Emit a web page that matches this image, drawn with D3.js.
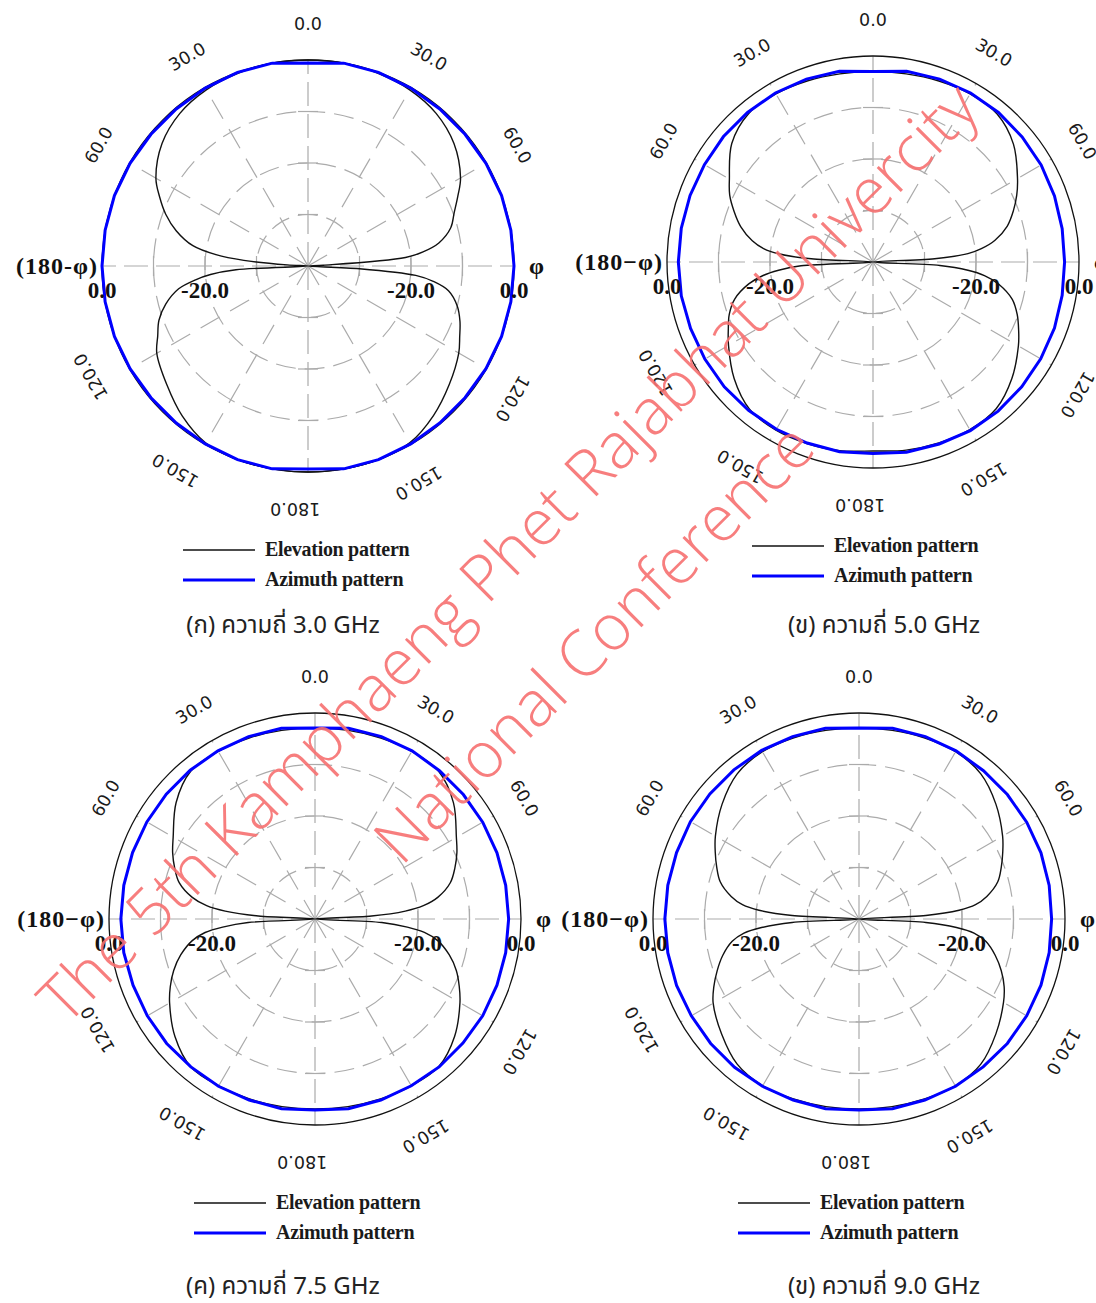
<!DOCTYPE html>
<html>
<head>
<meta charset="utf-8">
<script src="https://cdn.jsdelivr.net/npm/d3@7"></script>
<style>
  body { margin: 0; background: #fff; }
  svg { display: block; }
</style>
</head>
<body>
<div id="chart"></div>
<script>
const W = 1096, H = 1303;
const R = 206;

// angles (deg from top, clockwise) for the elevation cuts; right = phi, left = 180-phi
const ELEV_ANGLES = [0, 10, 20, 30, 40, 50, 60, 65, 70, 75, 80, 83, 85, 87, 90, 93, 95, 97, 100, 105, 110, 115, 120, 130, 140, 150, 160, 170, 180];
const AZ_ANGLES = [0, 10, 20, 30, 40, 50, 60, 70, 80, 90, 100, 110, 120, 130, 140, 150, 160, 170, 180];

// 3.0 GHz
const ELEV_30_R = [0, 0, -0.2, -0.5, -1.3, -3.0, -5.8, -7.9, -9.8, -11.3, -14.2, -17.5, -21.0, -37, -40, -30, -19.0, -15.5, -12.3, -10.0, -8.6, -7.5, -6.2, -4.2, -2.1, -0.4, 0, 0, 0];
const ELEV_30_L = [0, 0, -0.2, -0.5, -1.3, -3.0, -5.9, -8.2, -10.6, -13.5, -17.3, -22.0, -27.5, -36, -40, -26, -21.0, -18.0, -14.5, -11.4, -9.2, -7.8, -6.1, -4.2, -2.0, -0.3, 0, 0, 0];
const AZ_30_R = [-0.6, 0, 0, -0.1, -0.2, -0.2, -0.1, 0, 0, 0, 0, 0, -0.1, -0.2, -0.2, -0.1, 0, 0, -0.6];
const AZ_30_L = [-0.6, 0, 0, -0.1, -0.2, -0.2, -0.1, 0, 0, 0, 0, 0, -0.1, -0.2, -0.2, -0.1, 0, 0, -0.6];

// 5.0 GHz
const ELEV_50_R = [-3.0, -2.9, -2.6, -2.3, -2.5, -4.4, -7.6, -9.2, -11.0, -13.0, -16.0, -18.8, -21.5, -28, -40, -27, -21.5, -18.2, -15.2, -12.0, -10.2, -8.8, -7.4, -4.8, -2.8, -2.4, -2.6, -2.9, -3.3];
const ELEV_50_L = [-3.0, -2.9, -2.6, -2.3, -2.4, -4.2, -7.8, -9.3, -11.3, -13.4, -16.2, -18.6, -21.6, -28, -40, -26, -21.6, -18.5, -15.5, -12.2, -10.3, -9.0, -7.6, -4.8, -2.7, -2.3, -2.5, -2.8, -3.3];
const AZ_50_R = [-3.0, -2.4, -2.2, -2.1, -2.1, -2.2, -2.3, -2.5, -2.7, -2.8, -2.7, -2.5, -2.4, -2.3, -2.2, -2.2, -2.4, -2.5, -2.8];
const AZ_50_L = [-3.0, -2.4, -2.2, -2.1, -2.1, -2.1, -2.2, -2.2, -2.2, -2.2, -2.2, -2.3, -2.3, -2.3, -2.4, -2.5, -2.6, -2.6, -2.8];

// 7.5 GHz
const ELEV_75_R = [-2.9, -2.8, -2.6, -2.4, -2.6, -4.9, -8.3, -9.6, -11.1, -12.8, -15.8, -18.8, -22.4, -29, -40, -27, -22.0, -18.6, -15.8, -13.0, -10.8, -9.1, -7.5, -4.6, -2.6, -2.6, -2.8, -3.0, -3.1];
const ELEV_75_L = [-2.9, -2.8, -2.6, -2.4, -2.5, -4.8, -8.2, -9.5, -11.0, -12.7, -15.8, -18.8, -22.5, -29, -40, -27, -22.0, -18.5, -15.8, -13.0, -10.8, -9.0, -7.4, -4.5, -2.5, -2.6, -2.8, -3.0, -3.1];
const AZ_75_R = [-2.9, -2.4, -2.3, -2.3, -2.4, -2.4, -2.4, -2.4, -2.4, -2.4, -2.4, -2.4, -2.4, -2.5, -2.5, -2.6, -2.6, -2.6, -2.9];
const AZ_75_L = [-2.9, -2.4, -2.3, -2.3, -2.3, -2.3, -2.3, -2.3, -2.3, -2.3, -2.3, -2.4, -2.4, -2.4, -2.5, -2.5, -2.6, -2.6, -2.9];

// 9.0 GHz
const ELEV_90_R = [-2.9, -2.8, -2.6, -2.5, -3.2, -5.3, -7.8, -9.2, -10.6, -12.1, -14.8, -17.2, -20.5, -27, -40, -27, -21.0, -17.5, -15.0, -12.6, -10.6, -8.9, -7.6, -5.3, -3.2, -2.6, -2.8, -3.0, -3.1];
const ELEV_90_L = [-2.9, -2.8, -2.6, -2.5, -3.2, -5.3, -7.8, -9.2, -10.6, -12.1, -14.8, -17.2, -20.5, -27, -40, -27, -21.0, -17.5, -15.0, -12.6, -10.7, -8.9, -7.3, -5.2, -3.2, -2.6, -2.8, -3.0, -3.1];
const AZ_90_R = [-2.9, -2.4, -2.3, -2.3, -2.4, -2.4, -2.4, -2.4, -2.5, -2.6, -2.5, -2.4, -2.4, -2.4, -2.5, -2.5, -2.6, -2.6, -2.9];
const AZ_90_L = [-2.9, -2.4, -2.3, -2.2, -2.2, -2.2, -2.2, -2.3, -2.3, -2.3, -2.3, -2.3, -2.4, -2.4, -2.4, -2.5, -2.6, -2.6, -2.9];

const RING_LEVELS = [-30, -20, -10];
const RADIAL_LABELS = [-20, 0];
const ANGLE_TICKS = [0, 30, 60, 120, 150, 180];
const LEGEND = ['Elevation pattern', 'Azimuth pattern'];
const CAPTIONS = ['(ก) ความถี่ 3.0 GHz', '(ข) ความถี่ 5.0 GHz', '(ค) ความถี่ 7.5 GHz', '(ข) ความถี่ 9.0 GHz'];
const LEFT_LABELS = ['(180-φ)', '(180−φ)', '(180−φ)', '(180−φ)'];
const WATERMARK = ['The 5th Kamphaeng Phet Rajabhat Univercity', 'National Conference'];

const panels = [
  { cx: 308, cy: 266, elev: [ELEV_30_R, ELEV_30_L], az: [AZ_30_R, AZ_30_L], capX: 283, capY: 625, legDx: -125 },
  { cx: 873, cy: 262, elev: [ELEV_50_R, ELEV_50_L], az: [AZ_50_R, AZ_50_L], capX: 884, capY: 625, legDx: -121 },
  { cx: 315, cy: 919, elev: [ELEV_75_R, ELEV_75_L], az: [AZ_75_R, AZ_75_L], capX: 283, capY: 1286, legDx: -121 },
  { cx: 859, cy: 919, elev: [ELEV_90_R, ELEV_90_L], az: [AZ_90_R, AZ_90_L], capX: 884, capY: 1286, legDx: -121 }
];

const svg = d3.select('#chart').append('svg')
  .attr('width', W)
  .attr('height', H)
  .style('background', '#fff');

const r = d3.scaleLinear().domain([-40, 0]).range([0, R]).clamp(true);
const rad = d => d * Math.PI / 180;

// right half goes 0 -> 180 clockwise, left half comes back 180 -> 0 on the other side
function loop(angles, right, left) {
  const pts = angles.map((t, i) => ({ a: rad(t), v: right[i] }));
  for (let i = angles.length - 2; i >= 1; i--) pts.push({ a: rad(360 - angles[i]), v: left[i] });
  return pts;
}

const elevLine = d3.lineRadial().angle(d => d.a).radius(d => r(d.v)).curve(d3.curveCatmullRomClosed.alpha(0.5));
const azLine = d3.lineRadial().angle(d => d.a).radius(d => r(d.v)).curve(d3.curveLinearClosed);

const SERIF = '"Liberation Serif", "Times New Roman", serif';

panels.forEach((p, pi) => {
  const g = svg.append('g').attr('transform', `translate(${p.cx},${p.cy})`);
  const grid = g.append('g').attr('stroke', '#ababab').attr('stroke-width', 1.2).attr('fill', 'none');

  grid.selectAll('circle').data(RING_LEVELS).enter().append('circle')
    .attr('r', d => r(d))
    .attr('stroke-dasharray', '20,9');

  grid.selectAll('line.spoke').data(d3.range(0, 360, 30)).enter().append('line')
    .attr('class', 'spoke')
    .attr('x1', 0).attr('y1', 0)
    .attr('x2', d => R * Math.sin(rad(d)))
    .attr('y2', d => -R * Math.cos(rad(d)))
    .attr('stroke-dasharray', d => d % 90 === 0 ? '24,8' : '22,12');

  // small cross ticks on the main axes
  const ticks = [];
  [0, 90, 180, 270].forEach(a => RING_LEVELS.forEach(l => ticks.push({ a, l })));
  grid.selectAll('line.tick').data(ticks).enter().append('line')
    .attr('class', 'tick')
    .attr('x1', d => r(d.l) * Math.sin(rad(d.a)) - 10 * Math.cos(rad(d.a)))
    .attr('y1', d => -r(d.l) * Math.cos(rad(d.a)) - 10 * Math.sin(rad(d.a)))
    .attr('x2', d => r(d.l) * Math.sin(rad(d.a)) + 10 * Math.cos(rad(d.a)))
    .attr('y2', d => -r(d.l) * Math.cos(rad(d.a)) + 10 * Math.sin(rad(d.a)));

  g.append('circle').attr('r', r(0)).attr('fill', 'none').attr('stroke', '#111').attr('stroke-width', 1.3);

  g.append('path')
    .attr('d', elevLine(loop(ELEV_ANGLES, p.elev[0], p.elev[1])))
    .attr('fill', 'none').attr('stroke', '#111').attr('stroke-width', 1.4);

  g.append('path')
    .attr('d', azLine(loop(AZ_ANGLES, p.az[0], p.az[1])))
    .attr('fill', 'none').attr('stroke', '#0000ff').attr('stroke-width', 3);

  // angle labels, rotated along the circle
  const angLabels = [];
  ANGLE_TICKS.forEach(t => {
    angLabels.push(t);
    if (t !== 0 && t !== 180) angLabels.push(-t);
  });
  g.selectAll('text.ang').data(angLabels).enter().append('text')
    .attr('class', 'ang')
    .attr('transform', d => {
      const a = Math.abs(d) > 90 ? d + 3 : d;
      const rr = Math.abs(d) > 90 ? 244 : 242;
      return `translate(${rr * Math.sin(rad(a))},${-rr * Math.cos(rad(a))}) rotate(${d})`;
    })
    .attr('text-anchor', 'middle')
    .attr('dy', '0.36em')
    .style('font-family', '"DejaVu Sans", Verdana, sans-serif')
    .style('font-size', '17.5px')
    .attr('fill', '#1a1a1a')
    .text(d => Math.abs(d).toFixed(1));

  // radial (dB) labels on both sides of the horizontal axis
  const rl = [];
  RADIAL_LABELS.forEach(v => { rl.push({ v, s: -1 }); rl.push({ v, s: 1 }); });
  g.selectAll('text.rl').data(rl).enter().append('text')
    .attr('class', 'rl')
    .attr('x', d => d.s * r(d.v))
    .attr('y', 32)
    .attr('text-anchor', 'middle')
    .style('font-family', SERIF)
    .style('font-weight', 'bold')
    .style('font-size', '23px')
    .attr('fill', '#111')
    .text(d => d.v.toFixed(1));

  g.append('text')
    .attr('x', -R - 4).attr('y', 8)
    .attr('text-anchor', 'end')
    .style('font-family', SERIF)
    .style('font-weight', 'bold')
    .style('font-size', '24px')
    .attr('letter-spacing', '1')
    .attr('fill', '#111')
    .text(LEFT_LABELS[pi]);

  g.append('text')
    .attr('x', R + 15).attr('y', 8)
    .style('font-family', SERIF)
    .style('font-weight', 'bold')
    .style('font-size', '24px')
    .attr('fill', '#111')
    .text('φ');

  // legend
  const leg = g.append('g').attr('transform', `translate(${p.legDx},284)`);
  LEGEND.forEach((name, i) => {
    leg.append('line')
      .attr('x1', 0).attr('x2', 72)
      .attr('y1', i * 30).attr('y2', i * 30)
      .attr('stroke', i === 0 ? '#111' : '#0000ff')
      .attr('stroke-width', i === 0 ? 1.5 : 3);
    leg.append('text')
      .attr('x', 82).attr('y', i * 30 + 6)
      .style('font-family', SERIF)
      .style('font-weight', 'bold')
      .style('font-size', '20px')
      .attr('fill', '#1a1a1a')
      .attr('letter-spacing', '-0.3')
      .text(name);
  });

  svg.append('text')
    .attr('x', p.capX).attr('y', p.capY)
    .attr('dy', '0.35em')
    .attr('text-anchor', 'middle')
    .style('font-family', '"Noto Sans Thai", Tahoma, "Leelawadee UI", "DejaVu Sans", sans-serif')
    .style('font-size', '24px')
    .attr('fill', '#222')
    .text(CAPTIONS[pi]);
});

// watermark
const wm = svg.append('g').attr('pointer-events', 'none');
[{ x: 508, y: 553 }, { x: 594, y: 643 }].forEach((c, i) => {
  wm.append('text')
    .attr('transform', `translate(${c.x},${c.y}) rotate(-45)`)
    .attr('text-anchor', 'middle')
    .attr('dy', '0.35em')
    .style('font-family', '"Open Sans", "Noto Sans", sans-serif')
    .style('font-weight', 300)
    .style('font-size', '64px')
    .attr('fill', 'rgb(246,112,112)')
    .attr('fill-opacity', 0.9)
    .text(WATERMARK[i]);
});
</script>
</body>
</html>
